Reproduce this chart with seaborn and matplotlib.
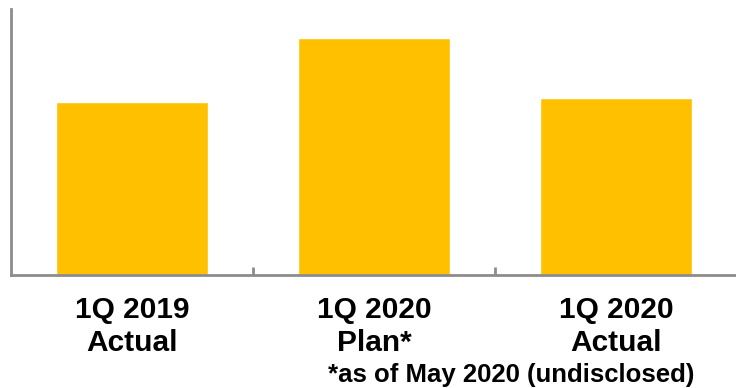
import matplotlib
matplotlib.use('Agg')
import matplotlib.pyplot as plt
import seaborn as sns
import pandas as pd

# undisclosed values -> relative bar heights (axis max = 100)
categories = ['1Q 2019\nActual', '1Q 2020\nPlan*', '1Q 2020\nActual']
values = [64.9, 89.2, 66.7]
footnote = '*as of May 2020 (undisclosed)'

sns.set_style('white')
plt.rcParams['font.family'] = ['Liberation Sans', 'DejaVu Sans']
plt.rcParams['text.color'] = 'black'
plt.rcParams['xtick.color'] = 'black'

df = pd.DataFrame({'period': categories, 'value': values})

W, H = 736, 388
fig = plt.figure(figsize=(W / 100, H / 100), dpi=100)
ax = fig.add_axes([11 / W, 1 - 275 / H, 726 / W, 266 / H])

sns.barplot(data=df, x='period', y='value', color='#FFC000', saturation=1,
            width=0.624, ax=ax)

ax.set_xlim(-0.5, 2.5)
ax.set_ylim(0, 100)
ax.set_xlabel('')
ax.set_ylabel('')
ax.set_yticks([])

grey = '#8C8C8C'
for s in ['top', 'right']:
    ax.spines[s].set_visible(False)
for s in ['left', 'bottom']:
    ax.spines[s].set_color(grey)
    ax.spines[s].set_linewidth(2)

ax.tick_params(axis='x', which='major', length=0, pad=15, labelsize=21.5,
               labelcolor='black')
for lab in ax.get_xticklabels():
    lab.set_fontweight('bold')
    lab.set_linespacing(1.25)
ax.set_xticks([0.5, 1.5], minor=True)
ax.tick_params(axis='x', which='minor', direction='in', length=6, width=2,
               color=grey, bottom=True)

fig.text(511 / W, 1 - 382 / H, footnote, ha='center', va='baseline',
         fontsize=18.5, fontweight='bold', color='black')

fig.savefig('out.png', dpi=100)
